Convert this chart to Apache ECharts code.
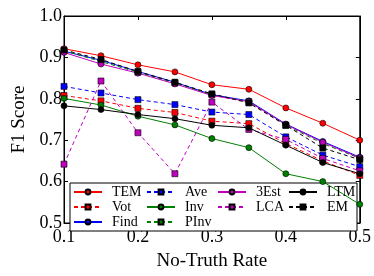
<!DOCTYPE html>
<html>
<head>
<meta charset="utf-8">
<script src="https://cdn.jsdelivr.net/npm/echarts@6/dist/echarts.min.js"></script>
<style>
  html, body { margin: 0; padding: 0; background: #fff; }
  #chart { width: 374px; height: 276px; }
</style>
</head>
<body>
<div id="chart"></div>
<script>
  // no-truth rate
  var rates = [0.1, 0.15, 0.2, 0.25, 0.3, 0.35, 0.4, 0.45, 0.5];
  var yTicks = [0.5, 0.6, 0.7, 0.8, 0.9, 1.0];

  var tem  = [0.921, 0.904, 0.882, 0.865, 0.834, 0.823, 0.778, 0.741, 0.700];
  var vot  = [0.808, 0.795, 0.777, 0.767, 0.746, 0.740, 0.692, 0.650, 0.615];
  var find = [0.915, 0.893, 0.866, 0.840, 0.810, 0.795, 0.739, 0.697, 0.659];
  var ave  = [0.830, 0.814, 0.798, 0.786, 0.768, 0.762, 0.708, 0.664, 0.636];
  var inv  = [0.801, 0.785, 0.758, 0.737, 0.704, 0.682, 0.619, 0.600, 0.545];
  var pinv = [0.916, 0.890, 0.864, 0.838, 0.810, 0.793, 0.736, 0.692, 0.656];
  var est3 = [0.912, 0.884, 0.862, 0.836, 0.808, 0.793, 0.738, 0.695, 0.657];
  var lca  = [0.642, 0.843, 0.718, 0.619, 0.792, 0.726, 0.702, 0.656, 0.626];
  var ltm  = [0.783, 0.774, 0.762, 0.752, 0.736, 0.730, 0.688, 0.646, 0.619];
  var em   = [0.918, 0.895, 0.866, 0.840, 0.812, 0.790, 0.736, 0.681, 0.653];

  function pts(arr){
    return rates.map(function(r, i){ return [r, arr[i]]; });
  }
  function line(name, arr, color, dashed, symbol){
    return {
      name: name,
      type: 'line',
      data: pts(arr),
      symbol: symbol,
      symbolSize: 6,
      lineStyle: { color: color, width: 1, type: dashed ? [4, 3] : 'solid' },
      itemStyle: { color: color, borderColor: '#000', borderWidth: 0.6 },
      animation: false
    };
  }

  var font = 'Liberation Serif';
  function legendCol(names, left){
    return {
      data: names,
      orient: 'vertical',
      left: left,
      top: 185,
      padding: 0,
      itemGap: 1,
      itemWidth: 28,
      itemHeight: 6,
      z: 6,
      textStyle: { fontFamily: font, fontSize: 14, lineHeight: 14, color: '#000', padding: [0, 0, 0, 5] },
      selectedMode: false
    };
  }

  var chart = echarts.init(document.getElementById('chart'));
  chart.setOption({
    animation: false,
    grid: { left: 64, right: 14, top: 16, bottom: 45, show: true, borderColor: '#000', borderWidth: 1 },
    legend: [
      legendCol(['TEM', 'Vot', 'Find'], 73),
      legendCol(['Ave', 'Inv', 'PInv'], 146),
      legendCol(['3Est', 'LCA'], 217),
      legendCol(['LTM', 'EM'], 288)
    ],
    graphic: [{
      type: 'rect',
      z: 3,
      shape: { x: 70, y: 183, width: 287, height: 48 },
      style: { fill: '#fff', stroke: '#000', lineWidth: 1 }
    }],
    xAxis: [{
      type: 'value', min: 0.1, max: 0.5, interval: 0.1,
      name: 'No-Truth Rate', nameLocation: 'middle', nameGap: 29,
      nameTextStyle: { fontFamily: font, fontSize: 19, color: '#000' },
      axisLine: { lineStyle: { color: '#000' } },
      axisTick: { inside: true, length: 4, lineStyle: { color: '#000' } },
      axisLabel: { fontFamily: font, fontSize: 18, color: '#000', margin: 5,
        formatter: function(v){ return v.toFixed(1); } },
      splitLine: { show: false }
    }, {
      type: 'value', min: 0.1, max: 0.5, interval: 0.1, position: 'top',
      axisLine: { lineStyle: { color: '#000' } },
      axisTick: { inside: true, length: 4, lineStyle: { color: '#000' } },
      axisLabel: { show: false }, splitLine: { show: false }
    }],
    yAxis: [{
      type: 'value', min: 0.5, max: 1.0, interval: 0.1,
      name: 'F1 Score', nameLocation: 'middle', nameGap: 31,
      nameTextStyle: { fontFamily: font, fontSize: 19, color: '#000' },
      axisLine: { lineStyle: { color: '#000' } },
      axisTick: { inside: true, length: 4, lineStyle: { color: '#000' } },
      axisLabel: { fontFamily: font, fontSize: 18, color: '#000', margin: 2,
        formatter: function(v){ return yTicks.indexOf(+v.toFixed(1)) >= 0 ? v.toFixed(1) : ''; } },
      splitLine: { show: false }
    }, {
      type: 'value', min: 0.5, max: 1.0, interval: 0.1, position: 'right',
      axisLine: { lineStyle: { color: '#000' } },
      axisTick: { inside: true, length: 4, lineStyle: { color: '#000' } },
      axisLabel: { show: false }, splitLine: { show: false }
    }],
    series: [
      line('TEM', tem, '#ff0000', false, 'circle'),
      line('Vot', vot, '#ff0000', true, 'rect'),
      line('Find', find, '#0000ff', false, 'circle'),
      line('Ave', ave, '#0000ff', true, 'rect'),
      line('Inv', inv, '#008000', false, 'circle'),
      line('PInv', pinv, '#008000', true, 'rect'),
      line('3Est', est3, '#bf00bf', false, 'circle'),
      line('LCA', lca, '#bf00bf', true, 'rect'),
      line('LTM', ltm, '#000000', false, 'circle'),
      line('EM', em, '#000000', true, 'rect')
    ]
  });
</script>
</body>
</html>
